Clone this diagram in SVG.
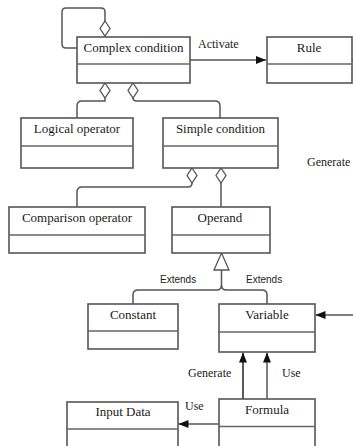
<svg xmlns="http://www.w3.org/2000/svg" width="353" height="446" viewBox="0 0 353 446">
<style>
.box{fill:#fff;stroke:#555;stroke-width:1.6}
.div{stroke:#666;stroke-width:1.6}
.t{font-family:"Liberation Serif","Times New Roman",serif;font-size:13px;fill:#1a1a1a;text-anchor:middle}
.l{font-family:"Liberation Serif","Times New Roman",serif;font-size:12px;fill:#1a1a1a}
.s{font-family:"Liberation Sans",Arial,sans-serif;font-size:10px;fill:#222}
.c{fill:none;stroke:#555;stroke-width:1.5}
.dia{fill:#fff;stroke:#555;stroke-width:1.3}
</style>
<defs>
<marker id="arr" markerUnits="userSpaceOnUse" markerWidth="10" markerHeight="10" viewBox="0 0 10 10" refX="10" refY="5" orient="auto">
<path d="M0,1 L10,5 L0,9 Z" fill="#111"/>
</marker>
</defs>
<rect width="353" height="446" fill="#fff"/>
<g id="connectors">
<path class="c" d="M77,48 H66 Q62,48 62,44 V12 Q62,8 66,8 H101 Q105,8 105,12 V21"/>
<polygon class="dia" points="105,21 110,28.5 105,36 100,28.5"/>
<polygon class="dia" points="105,83 110,90.5 105,98 100,90.5"/>
<polygon class="dia" points="133,83 138,90.5 133,98 128,90.5"/>
<path class="c" d="M105,98 V101 H82 Q77,101 77,106 V118"/>
<path class="c" d="M133,98 Q133,101 137,101 H215 Q220,101 220,106 V118"/>
<path class="c" d="M190,60 H266" marker-end="url(#arr)"/>
<path class="c" d="M352,59.5 H353"/>
<polygon class="dia" points="192,168 197,175.5 192,183 187,175.5"/>
<polygon class="dia" points="221,168 226,175.5 221,183 216,175.5"/>
<path class="c" d="M192,183 Q192,187 188,187 H82 Q77,187 77,192 V207"/>
<path class="c" d="M221,183 V207"/>
<polygon class="dia" points="221.5,253 229,270 214,270"/>
<path class="c" d="M221.5,270 V285 Q221.5,290 216.5,290 H138 Q133,290 133,295 V304"/>
<path class="c" d="M221.5,285 Q221.5,290 226.5,290 H262 Q267,290 267,295 V304"/>
<path class="c" d="M353,315 H315.5" marker-end="url(#arr)"/>
<path class="c" d="M243,399 V352.5" marker-end="url(#arr)" style="stroke:#222"/>
<path class="c" d="M267,399 V352.5" marker-end="url(#arr)"/>
<path class="c" d="M219,424 H178.5" marker-end="url(#arr)"/>
<text class="l" x="198" y="48">Activate</text>
<text class="l" x="307" y="166">Generate</text>
<text class="s" x="160" y="283">Extends</text>
<text class="s" x="246" y="283">Extends</text>
<text class="l" x="188" y="377">Generate</text>
<text class="l" x="282" y="377">Use</text>
<text class="l" x="185" y="410">Use</text>
</g>
<g id="complex-condition">
<rect class="box" x="77" y="37" width="113" height="46"/>
<line class="div" x1="77" y1="64" x2="190" y2="64"/>
<text class="t" x="133.5" y="52">Complex condition</text>
</g>
<g id="rule">
<rect class="box" x="267" y="37" width="85" height="46"/>
<line class="div" x1="267" y1="64" x2="352" y2="64"/>
<text class="t" x="309" y="52">Rule</text>
</g>
<g id="logical-operator">
<rect class="box" x="21" y="118" width="112" height="50"/>
<line class="div" x1="21" y1="146" x2="133" y2="146"/>
<text class="t" x="77" y="133">Logical operator</text>
</g>
<g id="simple-condition">
<rect class="box" x="163" y="118" width="115" height="50"/>
<line class="div" x1="163" y1="146" x2="278" y2="146"/>
<text class="t" x="220.5" y="133">Simple condition</text>
</g>
<g id="comparison-operator">
<rect class="box" x="9" y="207" width="136" height="46"/>
<line class="div" x1="9" y1="235" x2="145" y2="235"/>
<text class="t" x="77" y="222">Comparison operator</text>
</g>
<g id="operand">
<rect class="box" x="172" y="207" width="98" height="46"/>
<line class="div" x1="172" y1="235" x2="270" y2="235"/>
<text class="t" x="220" y="222">Operand</text>
</g>
<g id="constant">
<rect class="box" x="88" y="304" width="90" height="45"/>
<line class="div" x1="88" y1="331" x2="178" y2="331"/>
<text class="t" x="133" y="319">Constant</text>
</g>
<g id="variable">
<rect class="box" x="219" y="304" width="96" height="48"/>
<line class="div" x1="219" y1="332" x2="315" y2="332"/>
<text class="t" x="267" y="319">Variable</text>
</g>
<g id="formula">
<rect class="box" x="219" y="399" width="96" height="52"/>
<line class="div" x1="219" y1="426.5" x2="315" y2="426.5"/>
<text class="t" x="267" y="414">Formula</text>
</g>
<g id="input-data">
<rect class="box" x="67" y="402" width="111" height="50"/>
<line class="div" x1="67" y1="429" x2="178" y2="429"/>
<text class="t" x="123" y="416">Input Data</text>
</g>
</svg>
